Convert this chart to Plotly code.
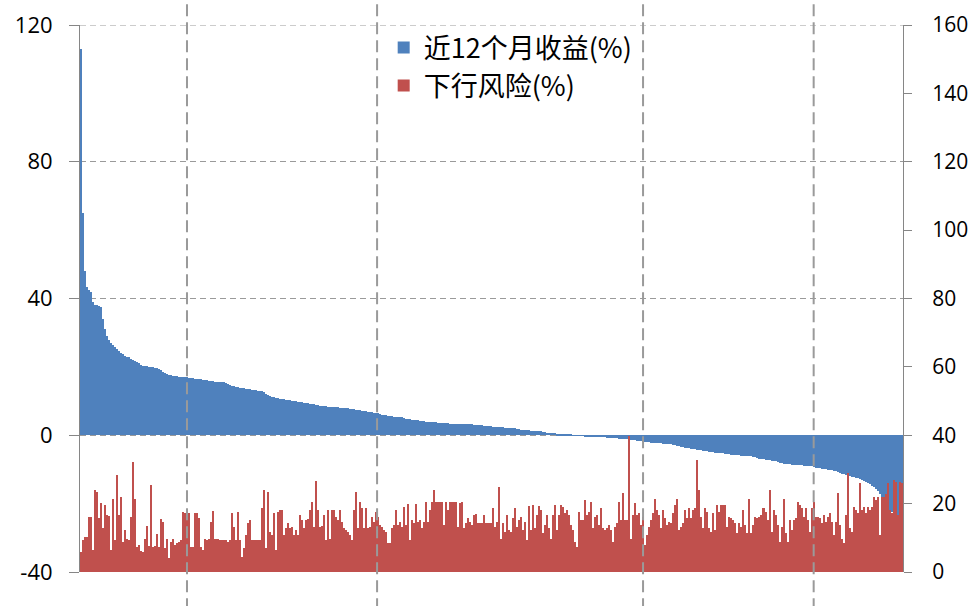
import plotly.graph_objects as go

# 近12个月收益(%) - left axis, sorted descending
returns_12m = [
    113, 65, 48, 43.5, 42.5, 42, 39,
    38, 38, 37.8, 37.5,
    34, 31,
    29, 28,
    27, 26.5, 25.7,
    25.2, 24.5,
    24, 23.7, 23.3, 23, 22.8,
    22.4, 22.1, 21.8, 21.5, 21.2,
    20.6, 20.4, 20.3, 20.2, 20.1, 20.0, 19.9, 19.8, 19.7,
    19.3, 19.0, 18.6, 18.2, 17.9,
    17.6, 17.5, 17.4, 17.3, 17.2, 17.1, 17.0, 17.0, 16.95,
    16.9, 16.8, 16.8, 16.7, 16.6, 16.5, 16.5, 16.4,
    16.3, 16.2, 16.1, 16.0, 15.9, 15.8, 15.7, 15.6, 15.6, 15.5, 15.5,
    15.3, 15.0, 14.7, 14.5, 14.3,
    14.1, 14.0, 13.9, 13.8, 13.7, 13.6, 13.5, 13.4, 13.3, 13.2, 13.1, 13.0, 12.9, 12.8,
    12.6, 12.2, 11.9, 11.6, 11.3, 11.1,
    10.9, 10.8, 10.7, 10.6, 10.5, 10.4, 10.3, 10.2, 10.1, 10.0,
    9.9, 9.8, 9.7, 9.6, 9.5, 9.4, 9.3, 9.2, 9.1, 9.0, 8.9, 8.8, 8.7, 8.6,
    8.5, 8.5, 8.4, 8.4, 8.3, 8.3, 8.2, 8.2, 8.1, 8.1, 8.0, 8.0, 7.9,
    7.8, 7.7, 7.6, 7.5, 7.4, 7.3, 7.2, 7.1, 7.0, 6.9, 6.8, 6.7, 6.6, 6.5, 6.4,
    6.2, 6.0, 5.9, 5.8, 5.7, 5.6, 5.5,
    5.4, 5.3, 5.3, 5.2, 5.2, 5.1,
    4.9, 4.8, 4.7, 4.6, 4.5, 4.5, 4.4,
    4.2, 4.1, 4.1, 4.0, 4.0, 3.9, 3.9, 3.8, 3.8, 3.7, 3.7, 3.6, 3.6, 3.5, 3.5,
    3.4, 3.4, 3.4, 3.4, 3.4, 3.3, 3.3, 3.3, 3.3, 3.3, 3.3,
    3.2, 3.1, 3.0, 3.0, 2.9, 2.9, 2.8, 2.8, 2.7, 2.6,
    2.5, 2.5, 2.4, 2.4, 2.3, 2.3, 2.2, 2.2, 2.1, 2.1, 2.0, 2.0, 1.9, 1.8,
    1.6, 1.5, 1.5, 1.4, 1.4, 1.3, 1.3, 1.2, 1.2, 1.1, 1.1, 1.0, 1.0,
    0.8, 0.7, 0.7, 0.6, 0.6, 0.5, 0.5, 0.4, 0.4, 0.3, 0.3, 0.2, 0.1,
    -0.1, -0.1, -0.1, -0.2, -0.2, -0.2, -0.3, -0.3, -0.3, -0.4, -0.4, -0.4, -0.5, -0.5, -0.5, -0.6, -0.6,
    -0.7, -0.7, -0.8, -0.8, -0.9, -0.9, -1.0, -1.0, -1.1, -1.1, -1.2, -1.2, -1.3, -1.3,
    -1.5, -1.6, -1.7, -1.8, -1.9, -2.0, -2.1, -2.1, -2.2, -2.2, -2.3, -2.3, -2.4, -2.4, -2.5, -2.5, -2.6, -2.6, -2.7,
    -2.8, -2.9, -3.0, -3.2, -3.4, -3.5, -3.6, -3.7, -3.8, -3.9,
    -4.0, -4.1, -4.2, -4.3, -4.4, -4.5, -4.6, -4.7, -4.8, -4.9,
    -5.0, -5.1, -5.2, -5.2, -5.3, -5.3, -5.4, -5.4,
    -5.6, -5.7, -5.8, -5.8, -5.9, -5.9, -6.0, -6.0, -6.1, -6.1, -6.2, -6.2, -6.3,
    -6.5, -6.7, -6.8, -6.9, -7.0, -7.1, -7.2, -7.3, -7.4, -7.5, -7.6, -7.8,
    -8.1, -8.2, -8.3, -8.4, -8.5, -8.5, -8.6, -8.6, -8.7, -8.7, -8.8, -8.8, -8.9, -8.9, -9.0, -9.0, -9.1, -9.2,
    -9.5, -9.6, -9.7, -9.8, -9.9, -10.0, -10.1, -10.2, -10.3, -10.4, -10.5, -10.7,
    -11.0, -11.2, -11.4, -11.5, -11.7, -11.9, -12.1, -12.3, -12.5, -12.6, -12.8,
    -13.0, -13.4, -13.8, -14.1, -14.4,
    -14.7, -15.2, -15.8, -16.4, -17.1,
    -18.0, -19.0, -20.0, -21.0, -22.0,
    -22.5, -23.0, -23.5, -24.0, -24.5, -25.0,
]

# 下行风险(%) - right axis
downside_risk = [
    5.9, 9.4, 10.3, 10.3, 16.2, 16.2, 6.4, 24.0, 23.5, 15.7,
    20.3, 12.8, 19.6, 16.7, 16.4, 6.4, 21.5, 9.5, 28.4, 16.7,
    21.8, 8.9, 12.3, 9.6, 9.4, 16.0, 32.3, 21.5, 7.2, 7.9,
    6.1, 5.9, 9.8, 13.5, 7.6, 25.4, 7.4, 7.6, 11.1, 7.4,
    15.4, 14.7, 6.9, 9.8, 4.0, 8.9, 9.6, 7.9, 8.4, 8.9,
    9.4, 17.6, 17.2, 17.0, 17.2, 7.4, 7.4, 17.2, 17.2, 15.7,
    7.4, 6.4, 9.8, 9.4, 9.8, 14.7, 17.9, 9.8, 9.8, 9.4,
    9.4, 9.4, 9.4, 8.9, 9.4, 17.2, 13.3,
    9.4, 17.6, 9.4, 4.5, 6.9, 10.8, 14.2, 15.2, 9.4, 9.4,
    9.4, 9.4, 9.4, 18.6, 24.0, 6.9, 23.5, 11.8, 10.8, 17.2,
    6.4, 17.6, 18.1, 18.1, 10.8, 12.8, 14.2, 12.8, 13.3, 10.8,
    12.3, 10.8, 16.7, 15.2, 12.8, 15.2, 15.4, 18.1, 20.6, 13.3,
    26.7, 18.1, 13.1, 13.5, 16.7, 9.4, 18.1, 9.8, 18.1, 18.1,
    16.2, 15.2, 18.1, 14.7, 12.8, 12.3, 11.8, 10.8, 9.4, 18.1,
    23.5, 12.8, 20.6, 18.6, 12.8, 18.6, 12.8, 13.3, 16.2, 14.7,
    17.6, 16.2, 13.7, 13.3, 12.3, 11.8, 8.4, 8.4,
    12.8, 13.7, 18.1, 13.7, 14.7, 13.1, 19.1, 13.7, 19.9, 9.4,
    15.2, 14.4, 19.9, 14.7, 15.2, 12.8, 14.7, 20.4, 14.7, 18.1,
    20.4, 24.0, 20.4, 20.4, 20.6, 20.6, 13.7, 20.4, 18.1, 20.4,
    20.4, 20.4, 20.4, 13.3, 20.1, 20.6, 12.8, 14.2, 15.7, 14.7,
    13.7, 16.7, 17.0, 14.2, 14.2, 14.2, 16.7, 14.2, 14.2, 14.2,
    18.6, 13.1, 14.7, 25.0, 9.8, 14.2, 11.8, 16.7, 12.3, 11.8,
    15.7, 18.6, 13.3, 15.2, 16.2, 12.3, 14.7, 9.4, 19.3, 12.3,
    19.6, 12.8, 16.7, 19.4, 18.1, 11.3, 13.7,
    16.7, 12.8, 9.8, 16.7, 19.6, 12.3, 16.7, 19.6, 19.1, 17.2,
    18.1, 16.7, 13.7, 12.3, 8.9, 7.4, 17.6, 15.2, 15.2, 21.1,
    16.7, 17.6, 20.6, 12.8, 16.2, 16.7, 13.7, 18.6, 12.8, 12.3,
    12.8, 13.7, 12.3, 8.9, 13.3, 14.2, 20.6, 15.2, 23.0, 15.2,
    15.2, 39.8, 9.8, 16.7, 20.1, 16.7, 17.2, 13.7, 16.2, 7.9,
    10.8, 13.3, 15.2, 17.2, 21.5, 18.1, 16.7, 12.8, 18.1, 15.7,
    13.7, 14.7, 14.2, 17.2, 19.6, 21.5, 12.3, 13.3, 14.2, 18.1,
    15.7, 18.6, 15.7, 18.1, 18.6, 32.8, 24.0,
    16.2, 12.8, 18.6, 17.6, 12.8, 11.8, 17.2, 12.3, 19.6, 17.6,
    19.6, 19.6, 19.6, 13.3, 16.2, 15.7, 15.2, 14.2, 11.3, 14.2,
    13.3, 18.1, 13.7, 11.3, 21.5, 11.3, 13.7, 16.2, 15.7, 16.2,
    16.7, 18.6, 17.6, 15.2, 24.0, 11.8, 18.1, 16.7, 13.7, 8.9,
    13.3, 21.5, 11.3, 8.9, 15.2, 12.3, 15.2, 15.7, 20.6, 19.6,
    18.6, 16.2, 18.6, 15.2, 11.8, 18.6, 20.6, 16.2, 16.2, 15.7,
    14.2, 16.7, 14.7, 16.2, 17.2, 14.7, 10.8, 14.7, 23.0, 13.7,
    9.8, 8.4, 16.7, 28.9, 12.8, 11.8, 19.1,
    18.1, 17.2, 25.9, 18.1, 19.1, 17.2, 19.1, 18.1, 19.1, 21.9,
    21.0, 21.9, 10.8, 21.9, 21.9, 22.8, 25.9, 18.1, 17.2, 26.9,
    26.4, 16.7, 26.4, 25.9,
]

series_names = ["近12个月收益(%)", "下行风险(%)"]
left_ticks = [-40, 0, 40, 80, 120]
left_tick_text = ["-40", "0", "40", "80", "120"]
right_ticks = [0, 20, 40, 60, 80, 100, 120, 140, 160]
vline_positions = [52.8, 147.5, 280.0, 365.0]  # category positions of the vertical grid lines

n = max(len(returns_12m), len(downside_risk))
idx_r = list(range(len(returns_12m)))
idx_d = list(range(len(downside_risk)))

BLUE = "#4F81BD"
RED = "#C0504D"
AXIS = "#868686"
GRID = "#9A9A9A"

fig = go.Figure()
fig.add_trace(go.Bar(x=idx_r, y=returns_12m, name=series_names[0], marker=dict(color=BLUE, line=dict(width=0)),
                     yaxis="y", legendgroup="a"))
fig.add_trace(go.Bar(x=idx_d, y=downside_risk, name=series_names[1], marker=dict(color=RED, line=dict(width=0)),
                     yaxis="y2", legendgroup="b"))

# top horizontal grid line (plotly omits the one on the range edge)
fig.add_shape(type="line", xref="paper", yref="y", x0=0, x1=1, y0=left_ticks[-1], y1=left_ticks[-1],
              line=dict(color=GRID, width=1, dash="6px,4px"), layer="below")

for xv in vline_positions:
    fig.add_shape(type="line", xref="x", yref="paper", x0=xv, x1=xv, y0=-0.07, y1=1.06,
                  line=dict(color=GRID, width=2, dash="12px,6px"), layer="above")

fig.update_layout(
    width=972, height=606,
    margin=dict(l=80, r=69, t=25, b=34, autoexpand=False),
    paper_bgcolor="white", plot_bgcolor="white",
    barmode="overlay", bargap=0,
    showlegend=True,
    legend=dict(x=0.369, y=1.003, xanchor="left", yanchor="top", bgcolor="rgba(0,0,0,0)",
                font=dict(family="Noto Sans CJK SC", size=27, color="#000"),
                traceorder="grouped", tracegroupgap=0),
    xaxis=dict(range=[-0.5, n - 0.5], showticklabels=False, showgrid=False, zeroline=False,
               showline=False, ticks="", automargin=False),
    yaxis=dict(range=[-40, 120], tickvals=left_ticks, ticktext=left_tick_text,
               showgrid=True, gridcolor=GRID, gridwidth=1, griddash="6px,4px",
               zeroline=False, showline=True, linecolor=AXIS, linewidth=1,
               ticks="outside", ticklen=10, tickcolor=AXIS, ticklabelstandoff=12, automargin=False,
               tickfont=dict(family="Open Sans", size=22, color="#000")),
    yaxis2=dict(range=[0, 160], tickvals=right_ticks, overlaying="y", side="right",
                showgrid=False, zeroline=False, showline=True, linecolor=AXIS, linewidth=1,
                ticks="outside", ticklen=8, tickcolor=AXIS, ticklabelstandoff=16, automargin=False,
                tickfont=dict(family="Open Sans", size=21, color="#000")),
)

fig.write_html("out.html", config={"displayModeBar": False},
               post_script="document.body.style.margin='0';document.body.style.overflow='hidden';")
